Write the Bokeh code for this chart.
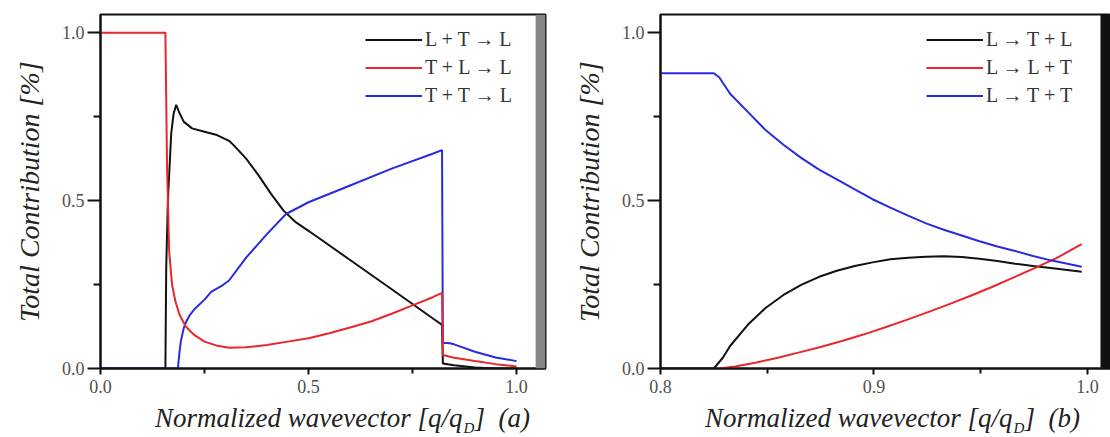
from bokeh.plotting import figure
from bokeh.layouts import row, column
from bokeh.models import FixedTicker, Legend, LegendItem, BoxAnnotation, Label, Range1d
from bokeh.embed import file_html
from bokeh.resources import INLINE

# ---------------- data: panel (a) ----------------
a_black_x = [0.0, 0.156, 0.158, 0.162, 0.17, 0.176, 0.182, 0.19, 0.2, 0.22, 0.25, 0.28, 0.309,
             0.32, 0.35, 0.38, 0.41, 0.44, 0.47, 0.5, 0.6, 0.7, 0.75, 0.8, 0.821,
             0.823, 0.85, 0.9, 0.95, 1.0]
a_black_y = [0.0, 0.0, 0.3, 0.5, 0.7, 0.76, 0.785, 0.76, 0.735, 0.715, 0.705, 0.695, 0.678,
             0.665, 0.625, 0.575, 0.52, 0.47, 0.435, 0.41, 0.323, 0.236, 0.192, 0.148, 0.13,
             0.015, 0.01, 0.003, 0.0, 0.0]

a_red_x = [0.0, 0.156, 0.160, 0.165, 0.172, 0.18, 0.19, 0.205, 0.225, 0.25, 0.28, 0.31, 0.35,
           0.4, 0.45, 0.5, 0.55, 0.6, 0.65, 0.7, 0.75, 0.8, 0.821,
           0.823, 0.85, 0.9, 0.95, 1.0]
a_red_y = [1.0, 1.0, 0.6, 0.35, 0.25, 0.2, 0.16, 0.125, 0.1, 0.08, 0.068, 0.062, 0.063,
           0.07, 0.08, 0.09, 0.105, 0.122, 0.14, 0.163, 0.188, 0.213, 0.225,
           0.04, 0.032, 0.022, 0.013, 0.006]

a_blue_x = [0.0, 0.186, 0.19, 0.193, 0.2, 0.206, 0.215, 0.227, 0.25, 0.266, 0.29, 0.309,
            0.35, 0.4, 0.446, 0.5, 0.6, 0.7, 0.8, 0.821,
            0.823, 0.84, 0.85, 0.9, 0.95, 1.0]
a_blue_y = [0.0, 0.0, 0.05, 0.08, 0.12, 0.139, 0.16, 0.178, 0.205, 0.228, 0.245, 0.262,
            0.33, 0.4, 0.46, 0.495, 0.545, 0.595, 0.64, 0.65,
            0.077, 0.075, 0.072, 0.05, 0.033, 0.022]

a_labels = ["L + T \u2192 L", "T + L \u2192 L", "T + T \u2192 L"]

# ---------------- data: panel (b) ----------------
b_black_x = [0.8, 0.825, 0.8292, 0.8326, 0.8409, 0.8492, 0.8576, 0.8659, 0.8743, 0.8826, 0.891,
             0.8993, 0.9077, 0.916, 0.9244, 0.9327, 0.9411, 0.9494, 0.9578, 0.9661, 0.9745,
             0.9828, 0.9973]
b_black_y = [0.0, 0.0, 0.032, 0.067, 0.13, 0.18, 0.219, 0.249, 0.273, 0.291, 0.305,
             0.316, 0.325, 0.33, 0.333, 0.334, 0.332, 0.327, 0.32, 0.312, 0.305,
             0.299, 0.288]

b_red_x = [0.8275, 0.835, 0.845, 0.855, 0.865, 0.875, 0.885, 0.895, 0.905, 0.915, 0.925,
           0.935, 0.945, 0.955, 0.965, 0.975, 0.985, 0.9973]
b_red_y = [0.0, 0.006, 0.018, 0.032, 0.048, 0.064, 0.082, 0.101, 0.122, 0.144, 0.167,
           0.191, 0.216, 0.242, 0.27, 0.298, 0.327, 0.37]

b_blue_x = [0.8, 0.825, 0.8275, 0.8326, 0.8409, 0.8492, 0.8576, 0.8659, 0.8743, 0.8826, 0.891,
            0.8993, 0.9077, 0.916, 0.9244, 0.9327, 0.9411, 0.9494, 0.9578, 0.9661, 0.9745,
            0.9828, 0.9973]
b_blue_y = [0.879, 0.879, 0.867, 0.818, 0.764, 0.71, 0.666, 0.627, 0.592, 0.563, 0.533,
            0.504, 0.479, 0.455, 0.432, 0.413, 0.396, 0.379, 0.363, 0.35, 0.335,
            0.322, 0.303]

b_labels = ["L \u2192 T + L", "L \u2192 L + T", "L \u2192 T + T"]

y_major = [0.0, 0.5, 1.0]
y_minor = [0.25, 0.75]
a_x_major = [0.0, 0.5, 1.0]
a_x_minor = [0.25, 0.75]
b_x_major = [0.8, 0.9, 1.0]
b_x_minor = [0.85, 0.95]

x_title = "Normalized wavevector [q/q"
x_sub = "D"

BLACK = "#111111"
RED = "#e8262b"
BLUE = "#2a2ae0"
SERIF = "Liberation Serif"


def style(p, xmaj, xmin):
    for ax in (p.xaxis[0], p.yaxis[0]):
        ax.axis_line_width = 2
        ax.axis_line_color = "#111111"
        ax.major_tick_line_width = 2
        ax.minor_tick_line_width = 2
        ax.major_tick_line_color = "#111111"
        ax.minor_tick_line_color = "#111111"
        ax.major_tick_in = 0
        ax.minor_tick_in = 0
        ax.major_label_text_font = SERIF
        ax.major_label_text_font_size = "18px"
        ax.major_label_text_color = "#505050"
    p.xaxis[0].major_tick_out = 6
    p.xaxis[0].minor_tick_out = 5
    p.xaxis[0].major_label_standoff = 5
    p.yaxis[0].major_tick_out = 13
    p.yaxis[0].minor_tick_out = 7
    p.yaxis[0].major_label_standoff = 3
    p.xaxis[0].ticker = FixedTicker(ticks=xmaj, minor_ticks=xmin)
    p.yaxis[0].ticker = FixedTicker(ticks=y_major, minor_ticks=y_minor)
    p.xaxis[0].major_label_overrides = {v: f"{v:.1f}" for v in xmaj}
    p.yaxis[0].major_label_overrides = {v: f"{v:.1f}" for v in y_major}
    p.yaxis[0].axis_label = "Total Contribution [%]"
    p.yaxis[0].axis_label_text_font = SERIF
    p.yaxis[0].axis_label_text_font_style = "italic"
    p.yaxis[0].axis_label_text_font_size = "28px"
    p.yaxis[0].axis_label_text_color = "#222222"
    p.yaxis[0].axis_label_standoff = 14
    p.grid.visible = False
    p.outline_line_color = "#111111"
    p.outline_line_width = 2
    p.background_fill_color = "white"
    p.border_fill_color = "white"


def make_legend(p, renderers, labels, loc):
    items = [LegendItem(label=t, renderers=[r]) for t, r in zip(labels, renderers)]
    lg = Legend(items=items, location=loc, background_fill_alpha=0, border_line_alpha=0,
                glyph_width=57, glyph_height=21, label_height=21, spacing=5,
                label_standoff=3, padding=0, margin=0,
                label_text_font=SERIF, label_text_font_size="20px",
                label_text_color="#333333")
    p.add_layout(lg, "center")


def title_strip(width, xq, tag):
    s = figure(width=width, height=37, output_backend="svg", toolbar_location=None,
               x_axis_type=None, y_axis_type=None, min_border=0,
               x_range=Range1d(0, width), y_range=Range1d(0, 37))
    s.outline_line_color = None
    s.grid.visible = False
    common = dict(x_units="screen", y_units="screen", text_font=SERIF,
                  text_font_style="italic", text_color="#222222", text_baseline="alphabetic")
    s.add_layout(Label(x=xq, y=20, text=x_title, text_align="right", text_font_size="27px", **common))
    s.add_layout(Label(x=xq + 1, y=10, text=x_sub, text_align="left", text_font_size="15px", **common))
    s.add_layout(Label(x=xq + 12, y=20, text="]", text_align="left", text_font_size="27px", **common))
    s.add_layout(Label(x=xq + 36, y=20, text=tag, text_align="left", text_font_size="27px", **common))
    return s


# ---------------- panel (a) ----------------
pa = figure(width=560, height=400, output_backend="svg", toolbar_location=None,
            x_range=Range1d(0.0, 1.0697), y_range=Range1d(0.0, 1.054),
            min_border_left=100, min_border_right=15, min_border_top=14, min_border_bottom=32)
pa.add_layout(BoxAnnotation(left=1.046, fill_color="#858585", fill_alpha=1.0, line_alpha=0))
ra1 = pa.line(a_black_x, a_black_y, line_color=BLACK, line_width=2)
ra3 = pa.line(a_blue_x, a_blue_y, line_color=BLUE, line_width=2)
ra2 = pa.line(a_red_x, a_red_y, line_color=RED, line_width=2)
style(pa, a_x_major, a_x_minor)
make_legend(pa, [ra1, ra2, ra3], a_labels, (265, 261))

# ---------------- panel (b) ----------------
pb = figure(width=550, height=400, output_backend="svg", toolbar_location=None,
            x_range=Range1d(0.8, 1.0108), y_range=Range1d(0.0, 1.054),
            min_border_left=100, min_border_right=0, min_border_top=14, min_border_bottom=32)
pb.add_layout(BoxAnnotation(left=1.0061, fill_color="#111111", fill_alpha=1.0, line_alpha=0))
rb1 = pb.line(b_black_x, b_black_y, line_color=BLACK, line_width=2)
rb2 = pb.line(b_red_x, b_red_y, line_color=RED, line_width=2)
rb3 = pb.line(b_blue_x, b_blue_y, line_color=BLUE, line_width=2)
style(pb, b_x_major, b_x_minor)
make_legend(pb, [rb1, rb2, rb3], b_labels, (266, 261))

sa = title_strip(560, 462, "(a)")
sb = title_strip(550, 452, "(b)")

layout = column(row(pa, pb, spacing=0), row(sa, sb, spacing=0), spacing=0)
open("out.html", "w").write(file_html(layout, INLINE))
